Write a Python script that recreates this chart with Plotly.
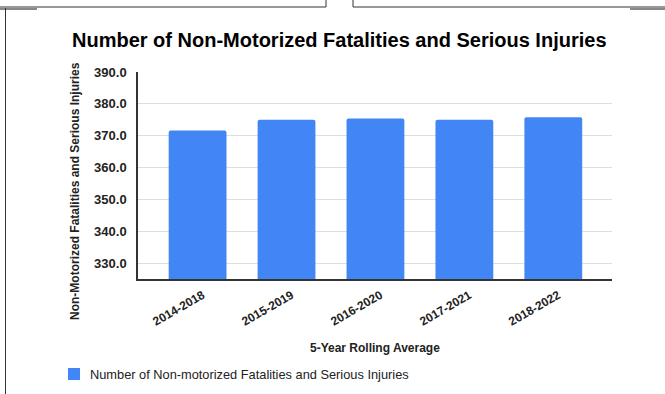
import plotly.graph_objects as go

# 5-year rolling average windows and the counts for each
periods = ["2014-2018", "2015-2019", "2016-2020", "2017-2021", "2018-2022"]
values = [371.6, 375.0, 375.4, 375.0, 375.8]
y_ticks = [330, 340, 350, 360, 370, 380, 390]

series_name = "Number of Non-motorized Fatalities and Serious Injuries"
title_text = "Number of Non-Motorized Fatalities and Serious Injuries"
y_title = "Non-Motorized Fatalities and Serious Injuries"
x_title = "5-Year Rolling Average"

W, H = 665, 394
L, R, T, B = 138, 612, 72, 279  # plot area in pixels

FONT = "Liberation Sans, Arial, sans-serif"
BLUE = "#4285F4"


def px(x):
    return (x - L) / (R - L)


def py(y):
    return (B - y) / (B - T)


fig = go.Figure()
fig.add_trace(go.Bar(
    x=list(range(len(periods))),
    y=values,
    width=0.65,
    name=series_name,
    marker=dict(color=BLUE, cornerradius=2, line=dict(width=0)),
    showlegend=False,
))

fig.update_layout(
    width=W, height=H,
    margin=dict(l=L, r=W - R, t=T, b=H - B, pad=0),
    paper_bgcolor="white", plot_bgcolor="white",
    font=dict(family=FONT, color="#222222"),
    showlegend=False,
)

fig.update_xaxes(
    range=[-0.67, 4.66],
    tickmode="array", tickvals=list(range(len(periods))), ticktext=periods,
    tickangle=-30,
    tickfont=dict(family=FONT, size=12, color="#222222", weight="bold"),
    showgrid=False, zeroline=False,
    showline=True, linecolor="#333333", linewidth=1.5,
    ticks="", ticklabelshift=5, ticklabelstandoff=3,
)
fig.update_yaxes(
    range=[325, 390],
    tickmode="array", tickvals=y_ticks, ticktext=[f"{v:.1f}" for v in y_ticks],
    tickfont=dict(family=FONT, size=13, color="#222222", weight="bold"),
    showgrid=True, gridcolor="#dedede", gridwidth=1,
    zeroline=False,
    showline=True, linecolor="#333333", linewidth=1.5,
    ticks="", ticklabelstandoff=7,
)

# chart title
fig.add_annotation(
    text=title_text, xref="paper", yref="paper",
    x=px(339), y=py(40), xanchor="center", yanchor="middle",
    showarrow=False, font=dict(family=FONT, size=20, color="#000000", weight="bold"),
)
# y-axis title
fig.add_annotation(
    text=y_title, xref="paper", yref="paper",
    x=px(75), y=py(191), xanchor="center", yanchor="middle", textangle=-90,
    showarrow=False, font=dict(family=FONT, size=12, color="#222222", weight="bold"),
)
# x-axis title
fig.add_annotation(
    text=x_title, xref="paper", yref="paper",
    x=px(375), y=py(348), xanchor="center", yanchor="middle",
    showarrow=False, font=dict(family=FONT, size=12, color="#222222", weight="bold"),
)

# legend: swatch plus series label
fig.add_shape(
    type="rect", xref="paper", yref="paper",
    x0=px(68), x1=px(80), y0=py(368), y1=py(380),
    fillcolor=BLUE, line=dict(width=0), layer="above",
)
fig.add_annotation(
    text=series_name, xref="paper", yref="paper",
    x=px(88), y=py(374), xanchor="left", yanchor="middle",
    showarrow=False, font=dict(family=FONT, size=12.8, color="#222222"),
)

# page frame lines around the chart
frame = [
    # (x0, y0, x1, y1, color, width)
    (0, 7, 326, 7, "#333333", 1),
    (353, 7, 665, 7, "#333333", 1),
    (326, 0, 326, 7, "#333333", 1),
    (353, 0, 353, 7, "#333333", 1),
    (0, 9, 37, 9, "#888888", 2),
    (630, 9, 665, 9, "#888888", 2),
    (5.5, 8, 5.5, 394, "#333333", 1),
]
for x0, y0, x1, y1, c, w in frame:
    fig.add_shape(
        type="line", xref="paper", yref="paper",
        x0=px(x0), y0=py(y0), x1=px(x1), y1=py(y1),
        line=dict(color=c, width=w), layer="above",
    )

fig.write_html("out.html")
